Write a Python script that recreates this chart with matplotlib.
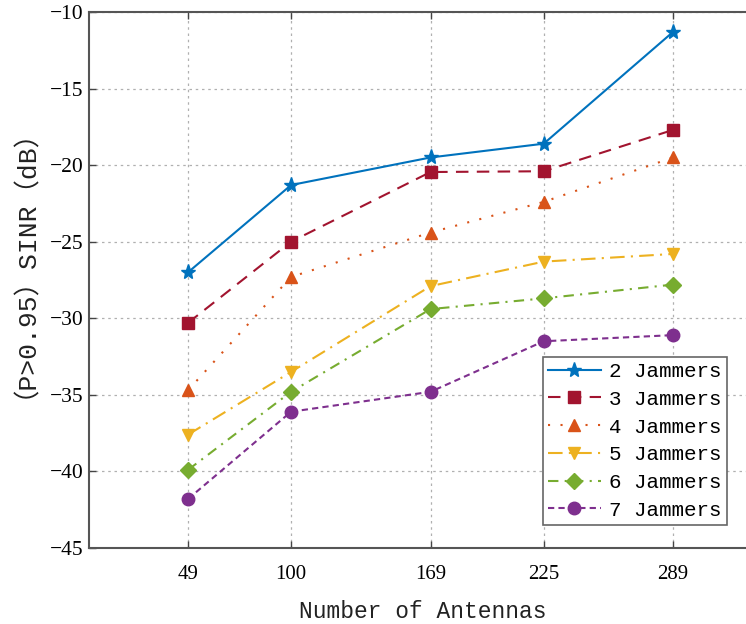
import matplotlib
matplotlib.use("Agg")
import matplotlib.pyplot as plt

antennas = [49, 100, 169, 225, 289]

sinr_2 = [-27.0, -21.3, -19.5, -18.6, -11.3]
sinr_3 = [-30.3, -25.0, -20.45, -20.4, -17.7]
sinr_4 = [-34.7, -27.3, -24.4, -22.4, -19.5]
sinr_5 = [-37.6, -33.5, -27.9, -26.3, -25.8]
sinr_6 = [-39.9, -34.8, -29.4, -28.7, -27.8]
sinr_7 = [-41.8, -36.1, -34.8, -31.5, -31.1]

labels = ["2 Jammers", "3 Jammers", "4 Jammers", "5 Jammers", "6 Jammers", "7 Jammers"]
yticks = [-45, -40, -35, -30, -25, -20, -15, -10]

series = [sinr_2, sinr_3, sinr_4, sinr_5, sinr_6, sinr_7]
colors = ["#0072BD", "#A2142F", "#D95319", "#EDB120", "#77AC30", "#7E2F8E"]
styles = ["-", (0, (6, 4)), (0, (1, 5)), (0, (7, 3, 1, 3)), (0, (5, 3, 1, 3)), (0, (3, 2))]
markers = ["*", "s", "^", "v", "D", "o"]
msizes = [11, 8, 9, 9, 8, 9]

serif = ["Liberation Serif", "DejaVu Serif"]
mono = ["Liberation Mono", "Noto Sans CJK SC", "DejaVu Sans"]

fig = plt.figure(figsize=(7.46, 6.24), dpi=100)
ax = fig.add_axes([0.1193, 0.1218, 0.894, 0.859])

for y, c, ls, m, ms, lab in zip(series, colors, styles, markers, msizes, labels):
    ax.plot(antennas, y, color=c, linestyle=ls, linewidth=1.5, marker=m,
            markersize=ms, markeredgecolor=c, label=lab)

ax.set_xlim(0, 330)
ax.set_ylim(-45, -10)
ax.set_xticks(antennas)
ax.set_yticks(yticks)
ax.set_xticklabels([str(a) for a in antennas], fontfamily=serif, fontsize=15)
ax.set_yticklabels([f"\u2212{abs(v)}" for v in yticks], fontfamily=serif, fontsize=15.5)
ax.tick_params(direction="in", top=True, right=True, length=5, width=1,
               color="#444444")
ax.tick_params(axis="x", pad=12)
ax.tick_params(axis="y", pad=4)

ax.grid(True, linestyle=(0, (2, 3)), color="#b0b0b0", linewidth=0.9)
for s in ax.spines.values():
    s.set_color("#555555")
    s.set_linewidth(1.5)

ax.set_xlabel("Number of Antennas", fontfamily=mono, fontsize=16.5, color="#222222", labelpad=12)
ax.set_ylabel("（P>0.95）SINR（dB）", fontfamily=mono, fontsize=19, color="#222222")
ax.yaxis.set_label_coords(-0.097, 0.556)

leg = ax.legend(loc="lower right", bbox_to_anchor=(0.9745, 0.1587),
                bbox_transform=fig.transFigure, prop={"family": mono, "size": 15},
                fancybox=False, edgecolor="#666666", framealpha=1,
                handlelength=2.55, handletextpad=0.4, labelspacing=0.42,
                borderpad=0.25, borderaxespad=0)
leg.get_frame().set_linewidth(1.2)

fig.savefig("out.png", dpi=100)
